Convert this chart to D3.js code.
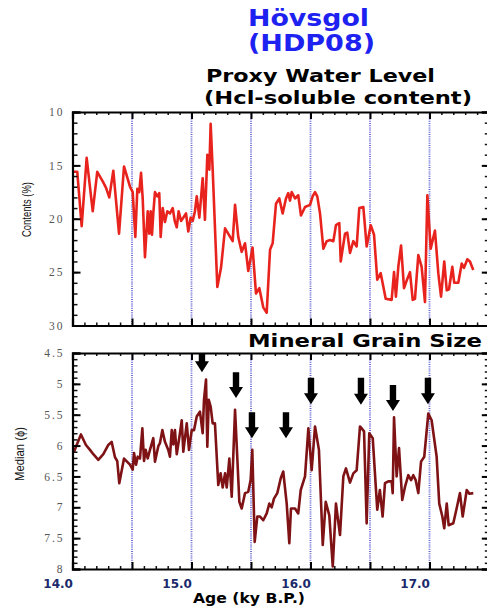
<!DOCTYPE html>
<html>
<head>
<meta charset="utf-8">
<script src="https://cdn.jsdelivr.net/npm/d3@7"></script>
<style>
  body { margin: 0; background: #fff; }
  .tick-label { font-family: 'Liberation Serif', serif; font-size: 11.5px; fill: #555; }
</style>
</head>
<body>
<div id="chart"></div>
<script>
// HCl-soluble content (%) by age (ky B.P.)
const waterAge = [14.107, 14.140, 14.177, 14.219, 14.270, 14.308, 14.354, 14.382, 14.409, 14.443,
  14.491, 14.533, 14.583, 14.606, 14.628, 14.645, 14.661, 14.676, 14.690, 14.709,
  14.732, 14.745, 14.757, 14.768, 14.779, 14.793, 14.813, 14.829, 14.841, 14.858,
  14.877, 14.897, 14.919, 14.942, 14.959, 14.976, 14.992, 15.012, 15.031, 15.054,
  15.073, 15.093, 15.110, 15.129, 15.144, 15.166, 15.194, 15.213, 15.233, 15.250,
  15.261, 15.278, 15.317, 15.348, 15.382, 15.446, 15.466, 15.493, 15.522, 15.550,
  15.577, 15.613, 15.642, 15.670, 15.703, 15.732, 15.760, 15.782, 15.810, 15.838,
  15.866, 15.894, 15.913, 15.928, 15.942, 15.970, 15.997, 16.020, 16.054, 16.096,
  16.118, 16.138, 16.157, 16.180, 16.208, 16.236, 16.264, 16.292, 16.314, 16.342,
  16.354, 16.390, 16.409, 16.432, 16.460, 16.488, 16.510, 16.544, 16.572, 16.606,
  16.634, 16.661, 16.690, 16.732, 16.782, 16.802, 16.818, 16.838, 16.861, 16.886,
  16.908, 16.936, 16.959, 16.978, 17.006, 17.034, 17.062, 17.082, 17.110, 17.146,
  17.174, 17.197, 17.224, 17.245, 17.264, 17.292, 17.308, 17.342, 17.371, 17.390,
  17.418, 17.440, 17.468];
const waterValue = [15.6, 15.6, 20.7, 14.3, 19.3, 15.6, 16.5, 17.1, 18.0, 15.5,
  21.4, 15.1, 17.0, 17.5, 21.7, 17.2, 17.5, 15.7, 18.1, 23.6,
  19.3, 21.4, 19.3, 21.5, 19.5, 17.5, 17.9, 17.6, 21.7, 19.0,
  20.3, 19.3, 19.5, 19.0, 20.2, 20.8, 19.3, 20.2, 19.9, 19.5,
  21.2, 19.9, 20.2, 19.3, 17.9, 19.9, 16.2, 20.1, 14.0, 15.4,
  11.1, 15.4, 26.4, 24.6, 20.9, 22.1, 18.7, 21.7, 23.1, 22.3,
  24.9, 22.7, 27.0, 26.5, 28.3, 28.8, 22.9, 22.3, 18.6, 18.1,
  19.5, 18.1, 17.6, 18.3, 17.5, 18.1, 17.8, 19.7, 18.9, 18.7,
  17.9, 17.5, 17.9, 19.5, 22.8, 22.1, 22.0, 22.1, 20.6, 20.4,
  24.0, 21.4, 21.3, 23.2, 22.1, 22.6, 19.0, 18.9, 22.6, 20.6,
  21.5, 25.7, 25.1, 27.5, 27.6, 25.0, 27.3, 24.5, 22.5, 26.5,
  25.8, 25.0, 27.6, 27.5, 23.4, 24.5, 27.8, 17.8, 22.8, 21.1,
  25.1, 27.3, 24.0, 26.7, 26.6, 24.5, 26.0, 26.0, 24.2, 24.6,
  23.8, 24.0, 24.8];

// Median mineral grain size (phi) by age (ky B.P.)
const grainAge = [14.113, 14.135, 14.171, 14.213, 14.247, 14.275, 14.317, 14.359, 14.401, 14.429,
  14.457, 14.476, 14.493, 14.533, 14.583, 14.606, 14.617, 14.634, 14.648, 14.667,
  14.687, 14.701, 14.715, 14.732, 14.751, 14.779, 14.793, 14.821, 14.835, 14.855,
  14.877, 14.905, 14.919, 14.934, 14.947, 14.961, 14.976, 15.003, 15.018, 15.031,
  15.060, 15.079, 15.102, 15.121, 15.144, 15.171, 15.194, 15.205, 15.222, 15.233,
  15.245, 15.261, 15.278, 15.297, 15.325, 15.345, 15.362, 15.382, 15.396, 15.418,
  15.438, 15.466, 15.502, 15.522, 15.550, 15.577, 15.597, 15.611, 15.631, 15.653,
  15.676, 15.703, 15.732, 15.754, 15.774, 15.793, 15.821, 15.850, 15.871, 15.900,
  15.922, 15.936, 15.970, 15.997, 16.018, 16.054, 16.082, 16.110, 16.138, 16.171,
  16.203, 16.228, 16.258, 16.287, 16.314, 16.348, 16.376, 16.398, 16.432, 16.460,
  16.488, 16.516, 16.550, 16.572, 16.594, 16.623, 16.661, 16.683, 16.706, 16.726,
  16.754, 16.782, 16.791, 16.802, 16.824, 16.844, 16.871, 16.894, 16.922, 16.945,
  16.964, 16.984, 17.006, 17.029, 17.056, 17.090, 17.118, 17.160, 17.182, 17.208,
  17.224, 17.245, 17.261, 17.300, 17.328, 17.356, 17.379, 17.413, 17.435, 17.468];
const grainValue = [6.10, 5.99, 5.82, 5.99, 6.07, 6.14, 6.23, 6.14, 5.99, 5.94,
  6.19, 6.25, 6.61, 6.21, 6.31, 6.39, 6.12, 6.31, 6.18, 6.21,
  5.72, 6.25, 6.07, 6.21, 6.07, 5.88, 6.26, 6.01, 5.96, 5.75,
  5.94, 6.07, 6.18, 5.75, 5.98, 5.75, 6.14, 5.80, 5.59, 6.10,
  5.64, 6.07, 5.75, 5.75, 5.53, 5.45, 5.80, 5.26, 4.93, 6.02,
  5.26, 5.37, 5.64, 5.64, 6.64, 6.45, 6.68, 6.45, 6.68, 6.21,
  6.83, 5.42, 6.91, 7.02, 6.77, 6.75, 6.56, 6.07, 7.56, 7.15,
  7.15, 7.21, 7.10, 6.94, 7.00, 6.86, 6.77, 6.53, 6.42, 6.94,
  7.58, 7.02, 7.02, 7.10, 6.72, 6.50, 5.72, 6.40, 5.69, 6.07,
  7.61, 6.91, 7.13, 7.96, 6.94, 7.45, 6.50, 6.37, 6.60, 6.45,
  6.40, 5.69, 5.77, 7.26, 5.80, 5.88, 7.04, 6.72, 7.15, 6.61,
  6.58, 6.58, 6.77, 5.54, 6.50, 6.04, 6.88, 6.67, 6.48, 6.56,
  6.48, 6.56, 6.77, 6.26, 6.18, 5.48, 5.59, 6.18, 6.94, 7.15,
  7.34, 6.94, 7.29, 7.26, 7.02, 6.77, 7.15, 6.72, 6.78, 6.77];

// Arrows marking coarse-grain events: age, top and tip (phi)
const arrowAge = [15.188, 15.474, 15.608, 15.894, 16.104, 16.524, 16.793, 17.087];
const arrowTop = [4.50, 4.81, 5.46, 5.46, 4.90, 4.90, 5.02, 4.90];
const arrowTip = [4.81, 5.23, 5.88, 5.88, 5.33, 5.34, 5.44, 5.33];

// Tick values
const xMajor = [14.6, 15.1, 15.6, 16.1, 16.6, 17.1];
const xLabels = [14.0, 15.0, 16.0, 17.0];
const waterTicks = [10, 15, 20, 25, 30];
const grainTicks = [4.5, 5, 5.5, 6, 6.5, 7, 7.5, 8];

const W = 487, H = 608;
const svg = d3.select('#chart').append('svg')
  .attr('width', W).attr('height', H);

const x = d3.scaleLinear().domain([14.1, 17.59]).range([72.5, 487.8]);
const yWater = d3.scaleLinear().domain([10, 30]).range([112, 325.5]);
const yGrain = d3.scaleLinear().domain([4.5, 8]).range([353, 569]);

const xMinor = d3.range(14.2, 17.59, 0.1).filter(v => !xMajor.some(m => Math.abs(m - v) < 0.01));

function panel(y, majorTicks, minorStep, lineX, lineY, colour) {
  const [top, bottom] = y.range();
  const g = svg.append('g');
  const [left, right] = x.range();

  // dotted grid at major x ticks
  g.selectAll('.grid')
    .data(xMajor)
    .enter()
    .append('line')
    .attr('x1', d => x(d)).attr('x2', d => x(d))
    .attr('y1', top).attr('y2', bottom)
    .attr('stroke', '#6262d4')
    .attr('stroke-width', 1.8)
    .attr('stroke-dasharray', '1,1.2');

  // data line
  const pts = lineX.map((a, i) => [a, lineY[i]]);
  g.append('path')
    .datum(pts)
    .attr('fill', 'none')
    .attr('stroke', colour)
    .attr('stroke-width', 2.6)
    .attr('stroke-linejoin', 'round')
    .attr('d', d3.line().x(d => x(d[0])).y(d => y(d[1])));

  const yMinor = d3.range(y.domain()[0], y.domain()[1], minorStep);

  const axes = [
    [d3.axisTop(x), top, xMinor, xMajor, -3, -7],
    [d3.axisBottom(x), bottom, xMinor, xMajor, -3, -7],
    [d3.axisLeft(y), left, yMinor, majorTicks, -5, -8],
    [d3.axisRight(y), right, yMinor, majorTicks, -3, -6]
  ];
  axes.forEach(([ax, pos, minor, major, sMinor, sMajor], i) => {
    const tr = i < 2 ? `translate(0,${pos})` : `translate(${pos},0)`;
    g.append('g').attr('transform', tr)
      .call(ax.tickValues(minor).tickSize(sMinor).tickFormat(''))
      .call(s => s.select('.domain').remove())
      .selectAll('line').attr('stroke', '#111').attr('stroke-width', 1.5);
    g.append('g').attr('transform', tr)
      .call(ax.tickValues(major).tickSize(sMajor).tickFormat(''))
      .call(s => s.select('.domain').attr('stroke', '#000').attr('stroke-width', 2.2))
      .selectAll('line').attr('stroke', '#000').attr('stroke-width', 2);
  });

  // y tick labels
  g.append('g').attr('transform', `translate(${left},0)`)
    .call(d3.axisLeft(y).tickValues(majorTicks).tickSize(0).tickPadding(8).tickFormat(d => d))
    .call(s => s.select('.domain').remove())
    .selectAll('text')
    .attr('class', 'tick-label')
    .attr('letter-spacing', '2px');
  return g;
}

panel(yWater, waterTicks, 1, waterAge, waterValue, '#e8231d');
const gGrain = panel(yGrain, grainTicks, 0.1, grainAge, grainValue, '#7e1215');

// arrows
const arrowData = arrowAge.map((a, i) => ({ age: a, top: arrowTop[i], tip: arrowTip[i] }));
gGrain.selectAll('.arrow')
  .data(arrowData)
  .enter()
  .append('path')
  .attr('class', 'arrow')
  .attr('fill', '#000')
  .attr('d', d => {
    const cx = x(d.age), t = yGrain(d.top), p = yGrain(d.tip);
    const hl = 11, sw = 3.2, hw = 7;
    return `M${cx - sw},${t}H${cx + sw}V${p - hl}H${cx + hw}L${cx},${p}L${cx - hw},${p - hl}H${cx - sw}Z`;
  });

// x tick labels
svg.append('g').attr('transform', `translate(-3,${yGrain.range()[1]})`)
  .call(d3.axisBottom(x).tickValues(xLabels).tickSize(0).tickPadding(10.5).tickFormat(d3.format('.1f')))
  .call(s => s.select('.domain').remove())
  .selectAll('text')
  .attr('font-family', "'DejaVu Sans', sans-serif")
  .attr('font-weight', 'bold')
  .attr('font-size', '12px')
  .attr('fill', '#1b2a6b');

// titles and axis labels
const texts = [
  { t: 'Hövsgol', x: 248, y: 26, size: 23, len: 121, fill: '#1e22f0' },
  { t: '(HDP08)', x: 248, y: 51, size: 23, len: 127, fill: '#1e22f0' },
  { t: 'Proxy Water Level', x: 206, y: 81.5, size: 18, len: 229, fill: '#000' },
  { t: '(Hcl-soluble content)', x: 204, y: 104, size: 18, len: 268, fill: '#000' },
  { t: 'Mineral Grain Size', x: 248, y: 347, size: 18, len: 234, fill: '#000' },
  { t: 'Age (ky B.P.)', x: 193, y: 603, size: 14, len: 112, fill: '#000' }
];
svg.selectAll('.title')
  .data(texts)
  .enter()
  .append('text')
  .attr('x', d => d.x).attr('y', d => d.y)
  .attr('font-family', "'DejaVu Sans', sans-serif")
  .attr('font-weight', 'bold')
  .attr('font-size', d => d.size)
  .attr('textLength', d => d.len)
  .attr('lengthAdjust', 'spacingAndGlyphs')
  .attr('fill', d => d.fill)
  .text(d => d.t);

// rotated y labels
[{ t: 'Contents (%)', x: 31, y: 209.5, len: 55 }, { t: 'Median (ϕ)', x: 24, y: 454, len: 54 }]
  .forEach(d => {
    svg.append('text')
      .attr('transform', `translate(${d.x},${d.y}) rotate(-90)`)
      .attr('text-anchor', 'middle')
      .attr('font-family', "'Liberation Sans Narrow', 'Liberation Sans', sans-serif")
      .attr('font-size', 13)
      .attr('textLength', d.len)
      .attr('lengthAdjust', 'spacingAndGlyphs')
      .attr('fill', '#111')
      .text(d.t);
  });
</script>
</body>
</html>
